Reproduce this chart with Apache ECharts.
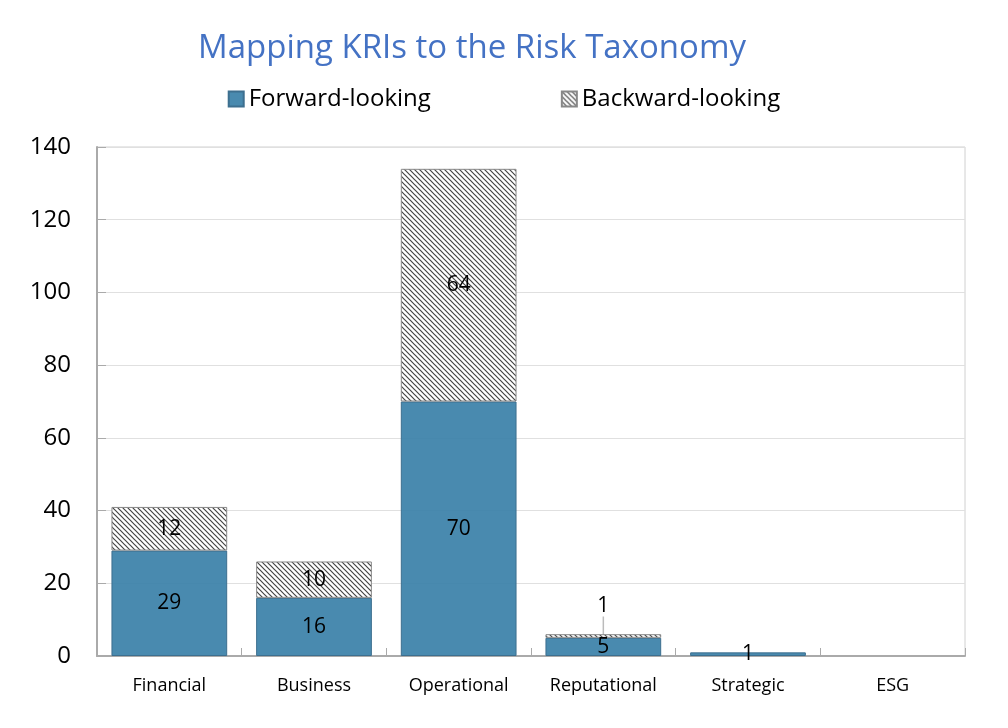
<!DOCTYPE html>
<html><head><meta charset="utf-8">
<script src="https://cdn.jsdelivr.net/npm/echarts@6/dist/echarts.min.js"></script>
<style>html,body{margin:0;padding:0;background:#fff}#c{width:1008px;height:728px}</style>
</head><body><div id="c"></div>
<script>
const categories = ['Financial','Business','Operational','Reputational','Strategic','ESG'];
const forwardValues = [29,16,70,5,1,0];
const backwardValues = [12,10,64,1,0,0];
const yTicks = [0,20,40,60,80,100,120,140];

function hatch(){
  const c = document.createElement('canvas');
  c.width = 5; c.height = 5;
  const g = c.getContext('2d');
  g.fillStyle = '#fff'; g.fillRect(0,0,5,5);
  g.strokeStyle = '#444'; g.lineWidth = 1.2;
  g.beginPath();
  g.moveTo(0,0); g.lineTo(5,5);
  g.moveTo(-2.5,2.5); g.lineTo(2.5,7.5);
  g.moveTo(2.5,-2.5); g.lineTo(7.5,2.5);
  g.stroke();
  return c;
}
const pat = {image: hatch(), repeat: 'repeat'};
const font = '"Open Sans", "Noto Sans", sans-serif';
const toItems = arr => arr.map(v => v ? v : {value: v, itemStyle: {borderWidth: 0}});
const chart = echarts.init(document.getElementById('c'));
chart.setOption({
  animation:false,
  title:{text:'Mapping KRIs to the Risk Taxonomy', left:467, textAlign:'center', top:27,
    textStyle:{color:'#4472C4', fontSize:33, fontWeight:'normal', fontFamily:font}},
  legend:{top:82, left:'center', itemGap:130, itemWidth:15, itemHeight:15,
    textStyle:{fontSize:24, color:'#000', fontFamily:font},
    data:[{name:'Forward-looking', icon:'rect'},{name:'Backward-looking', icon:'rect'}]},
  grid:{left:97, right:43, top:147, bottom:72, show:true, borderColor:'#d0d0d0', borderWidth:1},
  xAxis:{type:'category', data:categories,
    axisLine:{lineStyle:{color:'#aaa', width:2}},
    axisTick:{show:true, inside:true, length:8, lineStyle:{color:'#aaa'}},
    axisLabel:{fontSize:18, color:'#000', margin:21, fontFamily:font}},
  yAxis:{type:'value', min:0, max:140, interval:20,
    axisLine:{show:true, lineStyle:{color:'#aaa', width:2}},
    axisTick:{show:true, inside:true, length:9, lineStyle:{color:'#aaa'}},
    splitLine:{lineStyle:{color:'#e0e0e0'}},
    axisLabel:{fontSize:24, color:'#000', margin:26, fontFamily:font,
      formatter:v=>yTicks.includes(v)?String(v):''}},
  series:[
    {name:'Forward-looking', type:'bar', stack:'a', barWidth:'80%', data:toItems(forwardValues),
     itemStyle:{color:'rgba(58,128,168,0.92)', borderColor:'#3d6f8f', borderWidth:1},
     label:{show:true, position:'inside', fontSize:21, color:'#000', fontFamily:font,
       formatter:p=>p.value?String(p.value):''}},
    {name:'Backward-looking', type:'bar', stack:'a', barWidth:'80%', data:toItems(backwardValues),
     itemStyle:{color:pat, borderColor:'#888', borderWidth:1},
     label:{show:true, position:'inside', fontSize:21, color:'#000', fontFamily:font,
       formatter:p=>p.value?String(p.value):''},
     labelLayout:p=>p.dataIndex===3?{dy:-30}:{},
     labelLine:{show:true, lineStyle:{color:'#bbb', width:1.5}, length2:0}}
  ]
});
</script></body></html>
